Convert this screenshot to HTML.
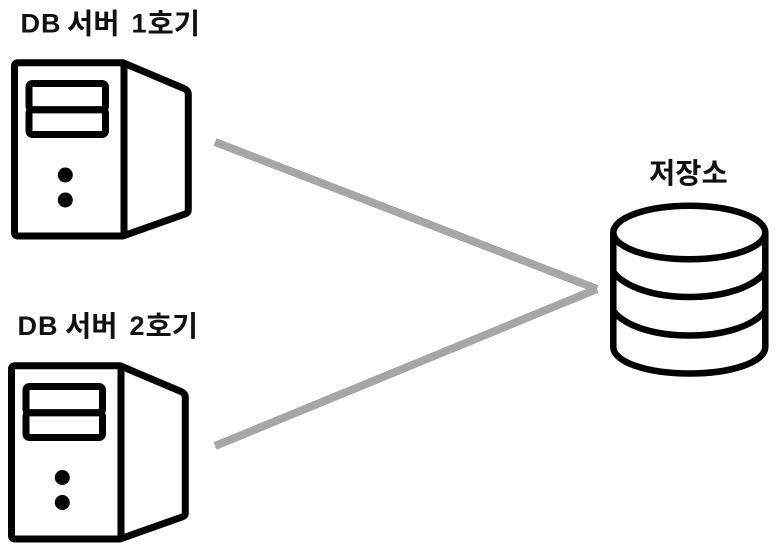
<!DOCTYPE html>
<html><head><meta charset="utf-8"><style>
html,body{margin:0;padding:0;background:#fff;width:778px;height:555px;overflow:hidden}
svg{display:block}
text{font-family:"Liberation Sans","Noto Sans CJK KR",sans-serif;font-weight:700;font-size:28.5px;fill:#111}
.l{font-size:27px;letter-spacing:1px}
</style></head><body>
<svg width="778" height="555" viewBox="0 0 778 555" xmlns="http://www.w3.org/2000/svg">
<g fill="none" stroke="#a6a6a6" stroke-width="8">
<line x1="215" y1="142" x2="597" y2="289"/>
<line x1="215" y1="446" x2="597" y2="289"/>
</g>
<g fill="none" stroke="#000" stroke-width="7" stroke-linejoin="round">
<path d="M18 62.7H123L184 88.5Q188.3 90.5 188.3 94V210Q188.3 213 185 214L123 236H18Q14.5 236 14.5 232.5V66.2Q14.5 62.7 18 62.7Z"/>
<path d="M124 62.7V236"/>
<rect x="29" y="83.5" width="76.5" height="26.2" rx="3.5"/>
<rect x="29" y="109.7" width="76.5" height="24.8" rx="3.5"/>
</g>
<circle cx="65.3" cy="175" r="7.5"/><circle cx="65.3" cy="200" r="7.5"/>
<g fill="none" stroke="#000" stroke-width="7" stroke-linejoin="round">
<path d="M15 365.7H120L181 391.5Q185.3 393.5 185.3 397V513Q185.3 516 182 517L120 539H15Q11.5 539 11.5 535.5V369.2Q11.5 365.7 15 365.7Z"/>
<path d="M121 365.7V539"/>
<rect x="26" y="386.5" width="76.5" height="26.2" rx="3.5"/>
<rect x="26" y="412.7" width="76.5" height="24.8" rx="3.5"/>
</g>
<circle cx="62.3" cy="477.5" r="7.5"/><circle cx="62.3" cy="502.5" r="7.5"/>
<g fill="none" stroke="#000" stroke-width="6.5">
<ellipse cx="689.3" cy="232.5" rx="76" ry="26.7"/>
<path d="M613.3 232.5V347C613.3 362 647 373.5 689.3 373.5S765.3 362 765.3 347V232.5"/>
<path d="M613.3 272C625 287 654 297 689.3 297S753 287 765.3 272"/>
<path d="M613.3 311C625 326 654 335.5 689.3 335.5S753 326 765.3 311"/>
</g>
<text y="33.5"><tspan class="l" x="20.5" y="32.5">DB</tspan><tspan x="67" y="33.5">서버</tspan><tspan class="l" x="131.5" y="32.5">1</tspan><tspan x="147.5" y="33.5">호기</tspan></text>
<text y="336"><tspan class="l" x="17.5" y="335">DB</tspan><tspan x="65" y="336">서버</tspan><tspan class="l" x="129.5" y="335">2</tspan><tspan x="145.5" y="336">호기</tspan></text>
<text y="183" x="649">저장소</text>
</svg>
</body></html>
